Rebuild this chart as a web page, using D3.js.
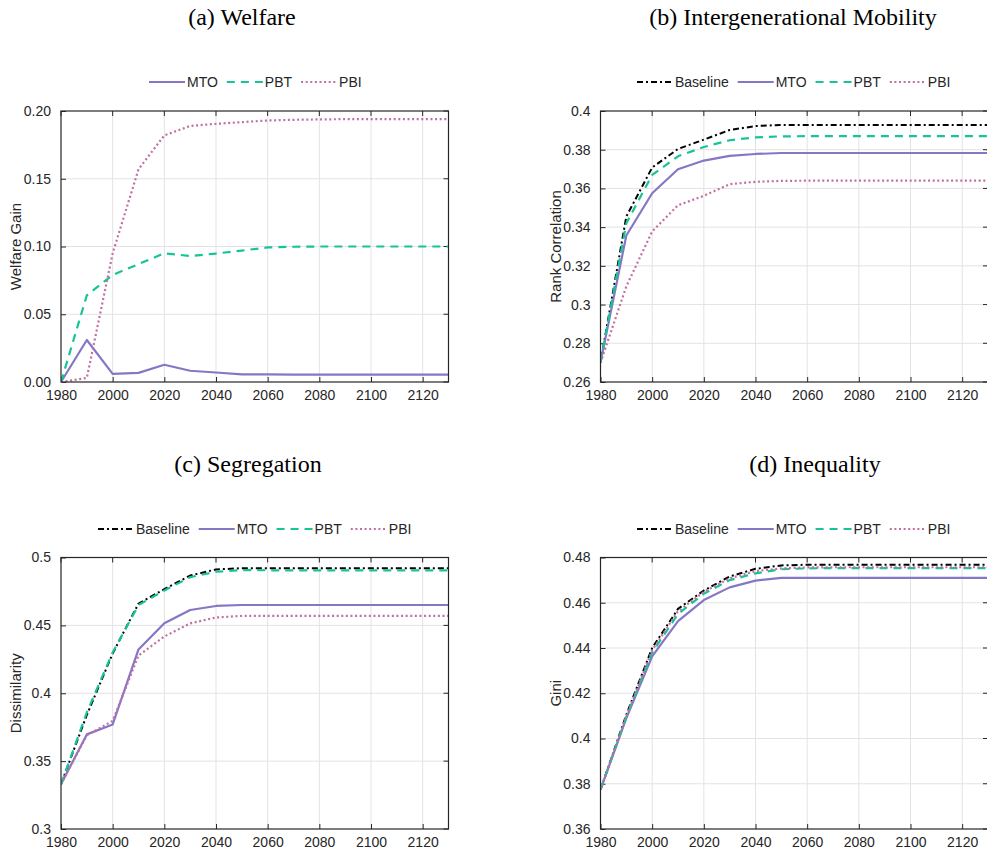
<!DOCTYPE html>
<html>
<head>
<meta charset="utf-8">
<script src="https://cdn.jsdelivr.net/npm/d3@7"></script>
<style>
  html, body { margin: 0; padding: 0; background: #fff; }
  svg { display: block; }
  .title { font-family: "Liberation Serif", "Times New Roman", serif; font-size: 24px; fill: #000; }
  .tick-label, .legend-label { font-family: "Liberation Sans", Arial, sans-serif; font-size: 14px; fill: #262626; }
  .axis-label { font-family: "Liberation Sans", Arial, sans-serif; font-size: 15px; fill: #262626; }
</style>
</head>
<body>
<svg id="chart" width="987" height="855"></svg>
<script>
// Simulation years (every decade)
const years = [1980, 1990, 2000, 2010, 2020, 2030, 2040, 2050, 2060, 2070, 2080, 2090, 2100, 2110, 2120, 2130];

// (a) Welfare gain by policy
const welfareMTO = [0, 0.031, 0.006, 0.0067, 0.0127, 0.0083, 0.007, 0.0056, 0.0056, 0.0055, 0.0055, 0.0055, 0.0055, 0.0055, 0.0055, 0.0055];
const welfarePBT = [0, 0.064, 0.079, 0.087, 0.095, 0.093, 0.0948, 0.097, 0.0993, 0.0998, 0.1, 0.1, 0.1, 0.1, 0.1, 0.1];
const welfarePBI = [0, 0.003, 0.095, 0.157, 0.182, 0.189, 0.1905, 0.1918, 0.193, 0.1935, 0.1938, 0.194, 0.194, 0.194, 0.194, 0.194];

// (b) Rank correlation
const rankBaseline = [0.270, 0.3455, 0.3708, 0.3804, 0.3852, 0.3902, 0.3922, 0.3928, 0.3928, 0.3928, 0.3928, 0.3928, 0.3928, 0.3928, 0.3928, 0.3928];
const rankMTO = [0.270, 0.3357, 0.3575, 0.3699, 0.3744, 0.3768, 0.3778, 0.3783, 0.3783, 0.3783, 0.3783, 0.3783, 0.3783, 0.3783, 0.3783, 0.3783];
const rankPBT = [0.270, 0.342, 0.367, 0.3766, 0.3814, 0.3849, 0.3864, 0.3869, 0.387, 0.387, 0.387, 0.387, 0.387, 0.387, 0.387, 0.387];
const rankPBI = [0.270, 0.3094, 0.3378, 0.3513, 0.3562, 0.3622, 0.3634, 0.3639, 0.364, 0.364, 0.364, 0.364, 0.364, 0.364, 0.364, 0.364];

// (c) Dissimilarity index
const segBaseline = [0.333, 0.384, 0.4293, 0.4661, 0.4767, 0.4867, 0.4912, 0.4921, 0.4921, 0.4921, 0.4921, 0.4921, 0.4921, 0.4921, 0.4921, 0.4921];
const segMTO = [0.333, 0.3697, 0.377, 0.4323, 0.4515, 0.4613, 0.4643, 0.465, 0.465, 0.465, 0.465, 0.465, 0.465, 0.465, 0.465, 0.465];
const segPBT = [0.333, 0.386, 0.430, 0.465, 0.4757, 0.4855, 0.4895, 0.4907, 0.4906, 0.4905, 0.4905, 0.4905, 0.4905, 0.4905, 0.4905, 0.4905];
const segPBI = [0.333, 0.369, 0.3797, 0.4278, 0.4418, 0.4515, 0.4558, 0.457, 0.457, 0.457, 0.457, 0.457, 0.457, 0.457, 0.457, 0.457];

// (d) Gini coefficient
const giniBaseline = [0.3774, 0.4105, 0.440, 0.4573, 0.4654, 0.4716, 0.475, 0.4765, 0.4768, 0.4768, 0.4768, 0.4768, 0.4768, 0.4768, 0.4768, 0.4768];
const giniMTO = [0.3774, 0.409, 0.4363, 0.4519, 0.4612, 0.4668, 0.4698, 0.471, 0.471, 0.471, 0.471, 0.471, 0.471, 0.471, 0.471, 0.471];
const giniPBT = [0.3774, 0.4095, 0.438, 0.455, 0.464, 0.470, 0.473, 0.4748, 0.4752, 0.4753, 0.4753, 0.4753, 0.4753, 0.4753, 0.4753, 0.4753];
const giniPBI = [0.3774, 0.4098, 0.439, 0.4563, 0.4648, 0.4708, 0.474, 0.4752, 0.4756, 0.4757, 0.4757, 0.4757, 0.4757, 0.4757, 0.4757, 0.4757];

// Axis ticks
const xTicks = [1980, 2000, 2020, 2040, 2060, 2080, 2100, 2120];
const welfareTicks = [0, 0.05, 0.10, 0.15, 0.20];
const rankTicks = [0.26, 0.28, 0.30, 0.32, 0.34, 0.36, 0.38, 0.40];
const segTicks = [0.30, 0.35, 0.40, 0.45, 0.50];
const giniTicks = [0.36, 0.38, 0.40, 0.42, 0.44, 0.46, 0.48];

// Line styles per series
const styles = {
  Baseline: { color: "#000000", dash: "6,3,2,3", width: 2 },
  MTO: { color: "#8577c6", dash: null, width: 2.2 },
  PBT: { color: "#16c497", dash: "8,6", width: 2.2 },
  PBI: { color: "#c070a0", dash: "2,2.6", width: 2.2 }
};

// MATLAB-like number formatting: strip trailing zeros except fixed-decimal axes
const trimFmt = v => String(+v.toFixed(4));
const fixed2 = v => v.toFixed(2);

const panels = [
  {
    title: "(a) Welfare", titleX: 242, titleY: 25,
    box: { x0: 61, x1: 448.5, y0: 111, y1: 382 },
    yDomain: [0, 0.20], yTicks: welfareTicks, yFmt: fixed2,
    yLabel: "Welfare Gain", yLabelX: 16,
    legendX: 149, legendY: 82,
    series: [["MTO", welfareMTO], ["PBT", welfarePBT], ["PBI", welfarePBI]]
  },
  {
    title: "(b) Intergenerational Mobility", titleX: 793, titleY: 25,
    box: { x0: 600.5, x1: 988, y0: 111, y1: 382 },
    yDomain: [0.26, 0.40], yTicks: rankTicks, yFmt: trimFmt,
    yLabel: "Rank Correlation", yLabelX: 556,
    legendX: 637, legendY: 82,
    series: [["Baseline", rankBaseline], ["MTO", rankMTO], ["PBT", rankPBT], ["PBI", rankPBI]]
  },
  {
    title: "(c) Segregation", titleX: 248, titleY: 472,
    box: { x0: 61, x1: 448.5, y0: 557.5, y1: 829 },
    yDomain: [0.30, 0.50], yTicks: segTicks, yFmt: trimFmt,
    yLabel: "Dissimilarity", yLabelX: 16,
    legendX: 98, legendY: 529,
    series: [["Baseline", segBaseline], ["MTO", segMTO], ["PBT", segPBT], ["PBI", segPBI]]
  },
  {
    title: "(d) Inequality", titleX: 815, titleY: 472,
    box: { x0: 600.5, x1: 988, y0: 557.5, y1: 829 },
    yDomain: [0.36, 0.48], yTicks: giniTicks, yFmt: trimFmt,
    yLabel: "Gini", yLabelX: 556,
    legendX: 637, legendY: 529,
    series: [["Baseline", giniBaseline], ["MTO", giniMTO], ["PBT", giniPBT], ["PBI", giniPBI]]
  }
];

const svg = d3.select("#chart");
const defs = svg.append("defs");
const gridColor = "#e3e3e3";
const axisColor = "#262626";
const tickLen = 5;

panels.forEach((p, i) => {
  const b = p.box;
  const x = d3.scaleLinear().domain([1980, 2130]).range([b.x0, b.x1]);
  const y = d3.scaleLinear().domain(p.yDomain).range([b.y1, b.y0]);
  const g = svg.append("g");

  // Panel title
  g.append("text").attr("class", "title")
    .attr("x", p.titleX).attr("y", p.titleY)
    .attr("text-anchor", "middle").text(p.title);

  // Grid lines
  g.append("g").selectAll("line").data(xTicks.filter(t => t > 1980)).join("line")
    .attr("x1", d => x(d)).attr("x2", d => x(d))
    .attr("y1", b.y0).attr("y2", b.y1)
    .attr("stroke", gridColor).attr("stroke-width", 1);
  g.append("g").selectAll("line").data(p.yTicks.slice(1, -1)).join("line")
    .attr("x1", b.x0).attr("x2", b.x1)
    .attr("y1", d => y(d)).attr("y2", d => y(d))
    .attr("stroke", gridColor).attr("stroke-width", 1);

  // Bottom and left axes with inward ticks
  const xAxis = d3.axisBottom(x).tickValues(xTicks).tickFormat(d3.format("d"))
    .tickSizeInner(-tickLen).tickSizeOuter(0).tickPadding(8);
  const gx = g.append("g").attr("transform", `translate(0,${b.y1})`).call(xAxis);
  const yAxis = d3.axisLeft(y).tickValues(p.yTicks).tickFormat(p.yFmt)
    .tickSizeInner(-tickLen).tickSizeOuter(0).tickPadding(10);
  const gy = g.append("g").attr("transform", `translate(${b.x0},0)`).call(yAxis);
  [gx, gy].forEach(ax => {
    ax.select(".domain").remove();
    ax.selectAll(".tick line").attr("stroke", axisColor);
    ax.selectAll(".tick text").attr("class", "tick-label").attr("font-size", null).attr("font-family", null);
  });
  gx.selectAll(".tick text").attr("dy", "0.71em");

  // Top and right mirrored ticks
  g.append("g").selectAll("line").data(xTicks).join("line")
    .attr("x1", d => x(d)).attr("x2", d => x(d))
    .attr("y1", b.y0).attr("y2", b.y0 + tickLen)
    .attr("stroke", axisColor);
  g.append("g").selectAll("line").data(p.yTicks).join("line")
    .attr("x1", b.x1).attr("x2", b.x1 - tickLen)
    .attr("y1", d => y(d)).attr("y2", d => y(d))
    .attr("stroke", axisColor);

  // Y axis label
  g.append("text").attr("class", "axis-label")
    .attr("transform", `translate(${p.yLabelX},${(b.y0 + b.y1) / 2}) rotate(-90)`)
    .attr("text-anchor", "middle").attr("dy", "0.35em")
    .text(p.yLabel);

  // Series lines, clipped to the plot area
  const clipId = "clip" + i;
  defs.append("clipPath").attr("id", clipId).append("rect")
    .attr("x", b.x0).attr("y", b.y0 - 1)
    .attr("width", b.x1 - b.x0).attr("height", b.y1 - b.y0 + 2);
  const line = d3.line().x((d, k) => x(years[k])).y(d => y(d));
  const lines = g.append("g").attr("clip-path", `url(#${clipId})`);
  p.series.forEach(([name, vals]) => {
    const s = styles[name];
    lines.append("path").datum(vals)
      .attr("d", line)
      .attr("fill", "none")
      .attr("stroke", s.color)
      .attr("stroke-width", s.width)
      .attr("stroke-dasharray", s.dash)
      .attr("stroke-linejoin", "round");
  });

  // Plot frame
  g.append("rect")
    .attr("x", b.x0).attr("y", b.y0)
    .attr("width", b.x1 - b.x0).attr("height", b.y1 - b.y0)
    .attr("fill", "none").attr("stroke", axisColor).attr("stroke-width", 1.2);

  // Legend laid out horizontally above the plot
  const lg = g.append("g");
  let cx = p.legendX;
  p.series.forEach(([name]) => {
    const s = styles[name];
    lg.append("line")
      .attr("x1", cx).attr("x2", cx + 36)
      .attr("y1", p.legendY).attr("y2", p.legendY)
      .attr("stroke", s.color).attr("stroke-width", s.width)
      .attr("stroke-dasharray", s.dash);
    const t = lg.append("text").attr("class", "legend-label")
      .attr("x", cx + 38).attr("y", p.legendY).attr("dy", "0.35em")
      .text(name);
    cx += 38 + t.node().getComputedTextLength() + 9;
  });
});
</script>
</body>
</html>
